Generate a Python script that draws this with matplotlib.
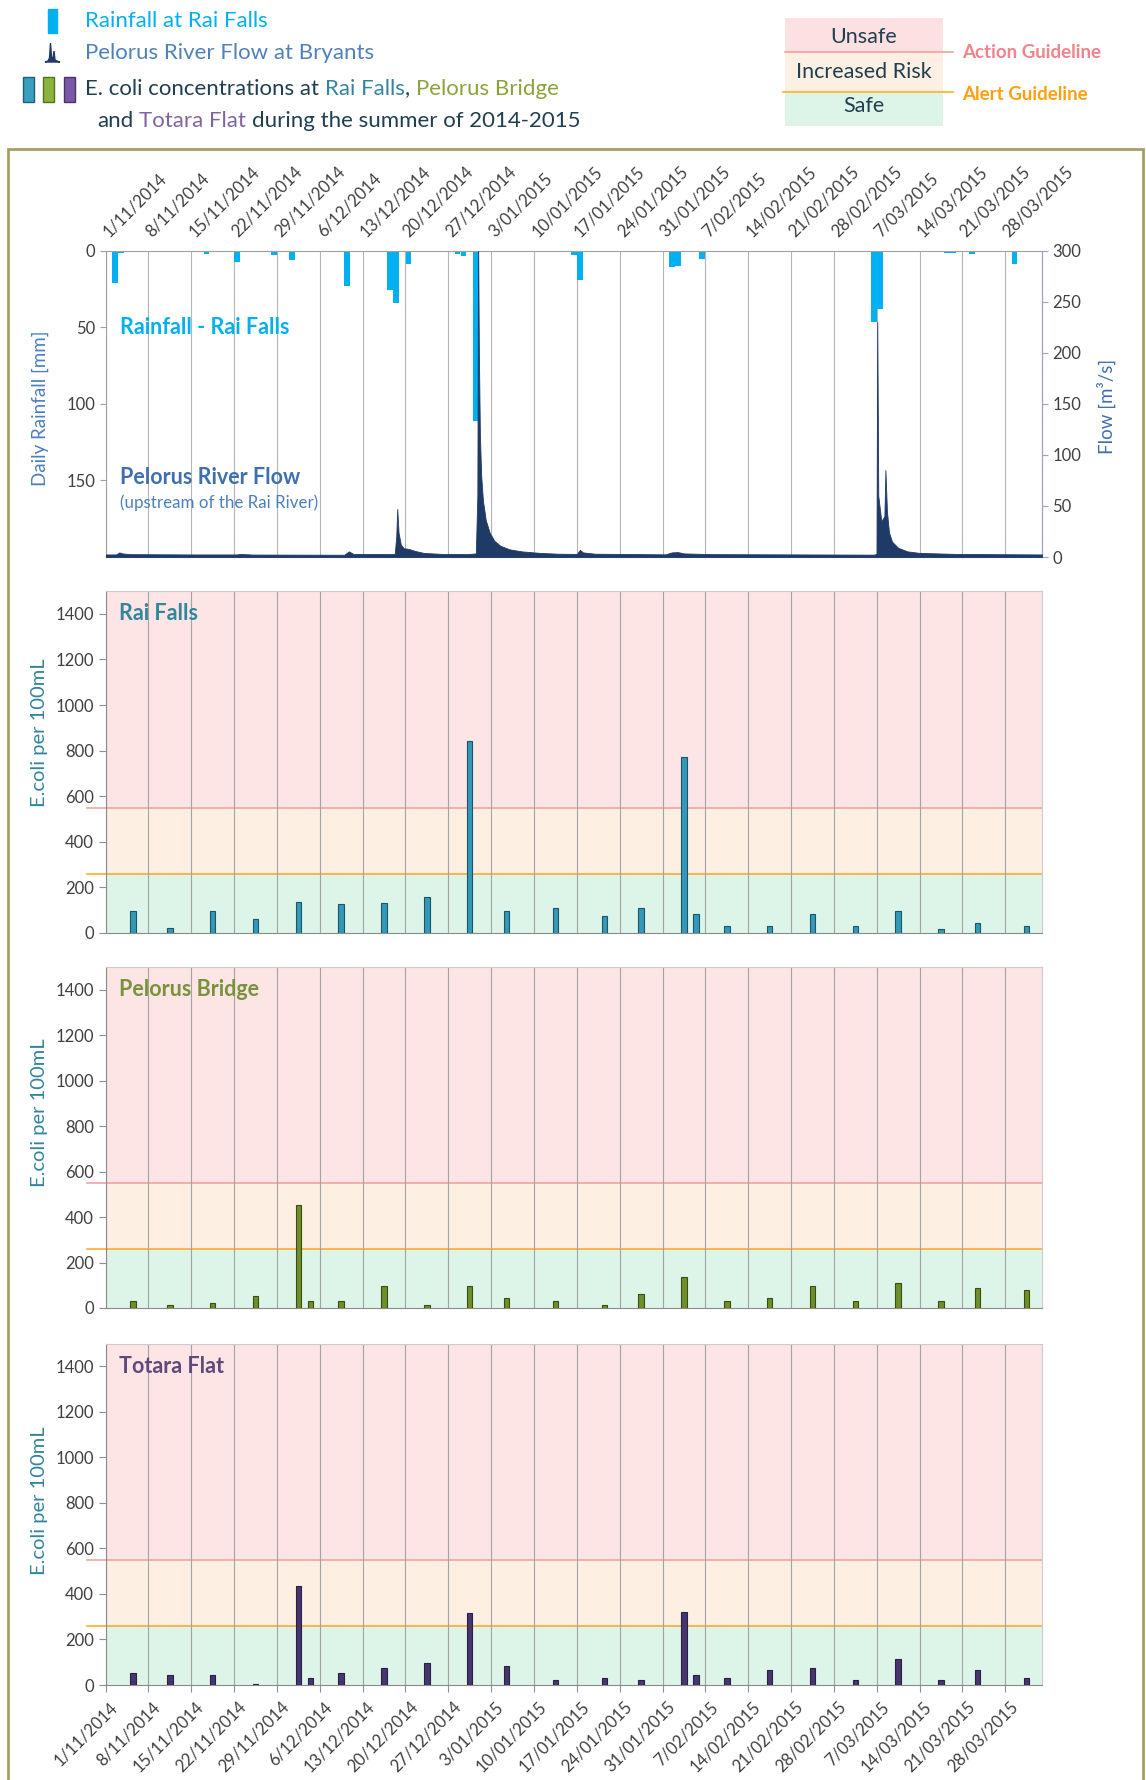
import matplotlib
matplotlib.use("Agg")
import matplotlib.pyplot as plt
import matplotlib.dates as mdates
import matplotlib.transforms as mtransforms
from matplotlib.patches import Rectangle, Polygon
import pandas as pd

plt.rcParams['font.family'] = ['Lato', 'DejaVu Sans']

# weekly gridline labels
week_labels = ['1/11/2014', '8/11/2014', '15/11/2014', '22/11/2014', '29/11/2014',
               '6/12/2014', '13/12/2014', '20/12/2014', '27/12/2014', '3/01/2015',
               '10/01/2015', '17/01/2015', '24/01/2015', '31/01/2015', '7/02/2015',
               '14/02/2015', '21/02/2015', '28/02/2015', '7/03/2015', '14/03/2015',
               '21/03/2015', '28/03/2015']
x_start, x_end = '2014-11-01', '2015-04-03'

# daily rainfall at Rai Falls (mm)
rain_dates = ['2014-11-02', '2014-11-03', '2014-11-04', '2014-11-06', '2014-11-15',
              '2014-11-17', '2014-11-22', '2014-11-25', '2014-11-26', '2014-11-28',
              '2014-12-01', '2014-12-10', '2014-12-17', '2014-12-18', '2014-12-20',
              '2014-12-28', '2014-12-29', '2014-12-31', '2015-01-16', '2015-01-17',
              '2015-01-21', '2015-02-01', '2015-02-02', '2015-02-06', '2015-02-09',
              '2015-03-06', '2015-03-07', '2015-03-18', '2015-03-19', '2015-03-22',
              '2015-03-26', '2015-03-29']
rain_mm = [21, 1.5, 0.5, 0.5, 1, 2, 7.5, 1, 1, 3,
           6, 23, 26, 34, 8.5, 2, 3.5, 111, 3, 19.5,
           1, 10.5, 10, 5.5, 1, 46.5, 38, 1.5, 1.5, 2.5,
           1, 9]

# Pelorus River flow at Bryants (m3/s)
flow_times = ['2014-11-01 00:00', '2014-11-02 18:00', '2014-11-03 06:00', '2014-11-03 18:00',
              '2014-11-05 00:00', '2014-11-15 00:00', '2014-11-22 12:00', '2014-11-23 00:00',
              '2014-11-25 00:00', '2014-12-10 00:00', '2014-12-10 18:00', '2014-12-11 12:00',
              '2014-12-18 06:00', '2014-12-18 12:00', '2014-12-18 16:00', '2014-12-18 21:00',
              '2014-12-19 06:00', '2014-12-19 18:00', '2014-12-20 12:00', '2014-12-21 12:00',
              '2014-12-23 00:00', '2014-12-26 00:00', '2014-12-30 00:00', '2014-12-31 12:00',
              '2014-12-31 18:00', '2014-12-31 21:00', '2015-01-01 00:00', '2015-01-01 04:00',
              '2015-01-01 09:00', '2015-01-01 16:00', '2015-01-02 03:00', '2015-01-02 18:00',
              '2015-01-03 12:00', '2015-01-04 12:00', '2015-01-06 00:00', '2015-01-08 00:00',
              '2015-01-11 00:00', '2015-01-14 00:00', '2015-01-17 00:00', '2015-01-17 12:00',
              '2015-01-18 00:00', '2015-01-20 00:00', '2015-01-31 12:00', '2015-02-01 12:00',
              '2015-02-02 12:00', '2015-02-03 12:00', '2015-02-08 00:00', '2015-03-06 12:00',
              '2015-03-06 23:00', '2015-03-07 02:00', '2015-03-07 06:00', '2015-03-07 18:00',
              '2015-03-08 06:00', '2015-03-08 10:00', '2015-03-08 16:00', '2015-03-09 00:00',
              '2015-03-09 12:00', '2015-03-10 12:00', '2015-03-12 00:00', '2015-03-14 00:00',
              '2015-03-20 00:00', '2015-04-03 00:00']
flow_m3s = [2.5, 2.5, 4.5, 3.5,
            2.8, 2.5, 2.5, 3.0,
            2.4, 2.2, 5.5, 3.0,
            2.8, 20, 47, 24,
            12, 8.5, 8, 6,
            4, 3, 2.8, 3.5,
            60, 310, 200, 120,
            80, 55, 36, 24,
            16, 11, 7.5, 5.5,
            4, 3.2, 3, 7,
            4.5, 3.2, 2.6, 4.5,
            4.8, 3.5, 2.8, 2.3,
            3, 230, 60, 35,
            40, 85, 45, 24,
            15, 9, 5.5, 4,
            3, 2.5]

# E. coli per 100 mL at each site
rai_dates = ['2014-11-05', '2014-11-11', '2014-11-18', '2014-11-25', '2014-12-02',
             '2014-12-09', '2014-12-16', '2014-12-23', '2014-12-30', '2015-01-05',
             '2015-01-13', '2015-01-21', '2015-01-27', '2015-02-03', '2015-02-05',
             '2015-02-10', '2015-02-17', '2015-02-24', '2015-03-03', '2015-03-10',
             '2015-03-17', '2015-03-23', '2015-03-31']
rai_ecoli = [98, 22, 98, 63, 136, 125, 133, 158, 840, 98,
             110, 76, 110, 770, 84, 29, 29, 84, 29, 98,
             19, 42, 29]

pel_dates = ['2014-11-05', '2014-11-11', '2014-11-18', '2014-11-25', '2014-12-02',
             '2014-12-04', '2014-12-09', '2014-12-16', '2014-12-23', '2014-12-30',
             '2015-01-05', '2015-01-13', '2015-01-21', '2015-01-27', '2015-02-03',
             '2015-02-10', '2015-02-17', '2015-02-24', '2015-03-03', '2015-03-10',
             '2015-03-17', '2015-03-23', '2015-03-31']
pel_ecoli = [29, 13, 21, 51, 453, 29, 29, 98, 13, 98,
             43, 29, 12, 63, 137, 29, 43, 98, 29, 110,
             29, 87, 78]

tot_dates = ['2014-11-05', '2014-11-11', '2014-11-18', '2014-11-25', '2014-12-02',
             '2014-12-04', '2014-12-09', '2014-12-16', '2014-12-23', '2014-12-30',
             '2015-01-05', '2015-01-13', '2015-01-21', '2015-01-27', '2015-02-03',
             '2015-02-05', '2015-02-10', '2015-02-17', '2015-02-24', '2015-03-03',
             '2015-03-10', '2015-03-17', '2015-03-23', '2015-03-31']
tot_ecoli = [51, 42, 42, 6, 435, 31, 51, 73, 98, 316,
             85, 22, 31, 22, 321, 42, 31, 64, 76, 22,
             113, 22, 64, 31]

alert_level = 260
action_level = 550


def dnum(seq):
    return mdates.date2num(pd.to_datetime(seq))


week_pos = mdates.date2num(pd.to_datetime(week_labels, dayfirst=True))
xlim = (dnum([x_start])[0], dnum([x_end])[0])

W, H = 1146, 1780
fig = plt.figure(figsize=(W / 100, H / 100), dpi=100)


def add_ax(x0, y0, x1, y1):
    return fig.add_axes([x0 / W, 1 - y1 / H, (x1 - x0) / W, (y1 - y0) / H])


def ftext(x, y, s, **kw):
    return fig.text(x / W, 1 - y / H, s, **kw)


def colour_line(x, y, parts, size):
    r = fig.canvas.get_renderer()
    t1 = ftext(0, 0, 'a a', fontsize=size)
    t2 = ftext(0, 0, 'aa', fontsize=size)
    sp = t1.get_window_extent(r).width - t2.get_window_extent(r).width
    t1.remove()
    t2.remove()
    for s, c in parts:
        lead = len(s) - len(s.lstrip(' '))
        trail = len(s) - len(s.rstrip(' '))
        x += lead * sp
        t = ftext(x, y, s.strip(' '), color=c, fontsize=size, va='center')
        x += t.get_window_extent(r).width + trail * sp


def shift_labels(labels, dx):
    off = mtransforms.ScaledTranslation(dx / 100, 0, fig.dpi_scale_trans)
    for lab in labels:
        lab.set_transform(lab.get_transform() + off)


grey_txt = '#404040'
dark_txt = '#203f50'
tick_size = 12
head_size = 16

# ---- header ----
fig.patches.append(Rectangle((48 / W, 1 - 33 / H), 9 / W, 24 / H, transform=fig.transFigure,
                             color='#00b0f0'))
ftext(85, 21, 'Rainfall at Rai Falls', color='#00b0f0', fontsize=head_size, va='center')

icon = [(45, 62), (48, 61), (49.5, 58), (50.5, 43), (51.5, 57), (53, 59), (54, 51),
        (55, 60), (58, 61.5), (60, 62)]
fig.patches.append(Polygon([(a / W, 1 - b / H) for a, b in icon], closed=True,
                           transform=fig.transFigure, color='#1f3a66'))
ftext(85, 53, 'Pelorus River Flow at Bryants', color='#4f81bd', fontsize=head_size, va='center')

for xi, fc, ec in [(23, '#3a9ec0', '#1f5f72'), (43, '#8cb43c', '#55701e'),
                   (64, '#7a5aa8', '#47336a')]:
    fig.patches.append(Rectangle((xi / W, 1 - 102 / H), 11 / W, 25 / H,
                                 transform=fig.transFigure, fc=fc, ec=ec, lw=1))
colour_line(85, 89, [('E. coli concentrations at ', dark_txt), ('Rai Falls', '#31859c'),
                     (', ', dark_txt), ('Pelorus Bridge', '#8aa33a')], head_size)
colour_line(97, 121, [('and ', dark_txt), ('Totara Flat', '#8064a2'),
                      (' during the summer of 2014-2015', dark_txt)], head_size)

# risk key
for y0, y1, c in [(18, 52, '#fde0e1'), (52, 92, '#fdf0e2'), (92, 126, '#ddf4e8')]:
    fig.patches.append(Rectangle((785 / W, 1 - y1 / H), 158 / W, (y1 - y0) / H,
                                 transform=fig.transFigure, color=c, lw=0))
fig.lines.append(plt.Line2D([785 / W, 953 / W], [1 - 52 / H] * 2, color='#f4a0a0', lw=1.2,
                            transform=fig.transFigure))
fig.lines.append(plt.Line2D([783 / W, 953 / W], [1 - 92 / H] * 2, color='#ffb020', lw=1.2,
                            transform=fig.transFigure))
ftext(864, 37, 'Unsafe', color=dark_txt, fontsize=15.5, ha='center', va='center')
ftext(864, 72, 'Increased Risk', color=dark_txt, fontsize=15.5, ha='center', va='center')
ftext(864, 106, 'Safe', color=dark_txt, fontsize=15.5, ha='center', va='center')
ftext(962, 53, 'Action Guideline', color='#f4828c', fontsize=13.5, weight='bold', va='center')
ftext(962, 94, 'Alert Guideline', color='#ffa010', fontsize=13.5, weight='bold', va='center')

# outer frame
fig.patches.append(Rectangle((8 / W, 1 - 1800 / H), 1135 / W, 1651 / H, transform=fig.transFigure,
                             fill=False, ec='#a3a064', lw=2))

# ---- rainfall and flow ----
ax = add_ax(105.5, 250.5, 1042, 557)
ax.bar(dnum(rain_dates) + 0.5, rain_mm, width=0.95, color='#00b0f0', zorder=2)
ax.set_ylim(200, 0)
ax.set_yticks([0, 50, 100, 150])
ax.set_xlim(*xlim)
ax.set_xticks(week_pos)
ax.xaxis.tick_top()
ax.set_xticklabels(week_labels, rotation=45, ha='left', va='bottom', rotation_mode='anchor')
ax.tick_params(axis='x', length=0, pad=8, labelsize=tick_size, labelcolor=grey_txt)
ax.tick_params(axis='y', length=4, color='#a0a0a0', labelsize=tick_size, labelcolor=grey_txt)
shift_labels(ax.get_xticklabels(), 6)
ax.grid(axis='x', color='#b4b4b4', lw=0.8)
ax.set_axisbelow(True)
for s in ax.spines.values():
    s.set_color('#a0a0a0')

ax2 = ax.twinx()
ax2.fill_between(dnum(flow_times), flow_m3s, color='#1f3a66', lw=0.6, zorder=3)
ax2.set_ylim(0, 300)
ax2.set_yticks(range(0, 301, 50))
ax2.tick_params(axis='y', length=4, color='#9ea0d0', labelsize=tick_size, labelcolor=grey_txt)
ax2.spines['right'].set_color('#9ea0d0')
for k in ['left', 'top', 'bottom']:
    ax2.spines[k].set_visible(False)

ftext(120, 327, 'Rainfall - Rai Falls', color='#00b0f0', fontsize=15.5, weight='bold', va='center')
ftext(120, 478, 'Pelorus River Flow', color='#3f6fb0', fontsize=15.5, weight='bold', va='center')
ftext(120, 503, '(upstream of the Rai River)', color='#4a7fc0', fontsize=12.2, va='center')
ftext(40, 408, 'Daily Rainfall [mm]', color='#4a7fc0', fontsize=13.5, rotation=90,
      ha='center', va='center')
ftext(1106, 406, 'Flow [m³/s]', color='#3f6fb0', fontsize=13.5, rotation=90,
      ha='center', va='center')

# ---- E. coli panels ----
panels = [
    (591, 933, rai_dates, rai_ecoli, '#3399bb', '#1d5566', 'Rai Falls', '#31859c', 733),
    (967, 1308, pel_dates, pel_ecoli, '#6f8f2a', '#3a4e12', 'Pelorus Bridge', '#77933c', 1113),
    (1343.5, 1685, tot_dates, tot_ecoli, '#46356f', '#2a1f45', 'Totara Flat', '#5f497a', 1501),
]
for i, (top, bot, dates, vals, fc, ec, name, tcol, ylab_y) in enumerate(panels):
    a = add_ax(105.5, top, 1042, bot)
    a.axhspan(0, alert_level, color='#ddf4e9', lw=0, zorder=0)
    a.axhspan(alert_level, action_level, color='#fdf0e2', lw=0, zorder=0)
    a.axhspan(action_level, 1500, color='#fde4e5', lw=0, zorder=0)
    a.axhline(action_level, xmin=-0.02, color='#f49a9a', lw=1.1, clip_on=False, zorder=1)
    a.axhline(alert_level, xmin=-0.02, color='#ffa41c', lw=1.1, clip_on=False, zorder=1)
    for wp in week_pos:
        a.axvline(wp, color='#a3a3a3', lw=0.8, zorder=1)
    a.bar(dnum(dates) + 0.5, vals, width=0.9, color=fc, edgecolor=ec, lw=0.8, zorder=3)
    a.set_xlim(*xlim)
    a.set_ylim(0, 1500)
    a.set_yticks(range(0, 1401, 200))
    a.tick_params(axis='y', length=5, color='#909090', labelsize=tick_size, labelcolor=grey_txt)
    a.spines['left'].set_color('#8a8a8a')
    a.spines['bottom'].set_color('#8a8a8a')
    a.spines['top'].set_color('#cccccc')
    a.spines['right'].set_color('#cccccc')
    if i == 2:
        a.set_xticks(week_pos)
        a.set_xticklabels(week_labels, rotation=45, ha='right', va='top', rotation_mode='anchor')
        a.tick_params(axis='x', length=5, color='#909090', pad=5, labelsize=tick_size,
                      labelcolor=grey_txt)
        shift_labels(a.get_xticklabels(), 4)
    else:
        a.set_xticks([])
    ftext(119, top + 23, name, color=tcol, fontsize=15.5, weight='bold', va='center')
    ftext(40, ylab_y, 'E.coli per 100mL', color='#31859c', fontsize=14.5, rotation=90,
          ha='center', va='center')

fig.savefig('out.png', dpi=100, facecolor='white')
